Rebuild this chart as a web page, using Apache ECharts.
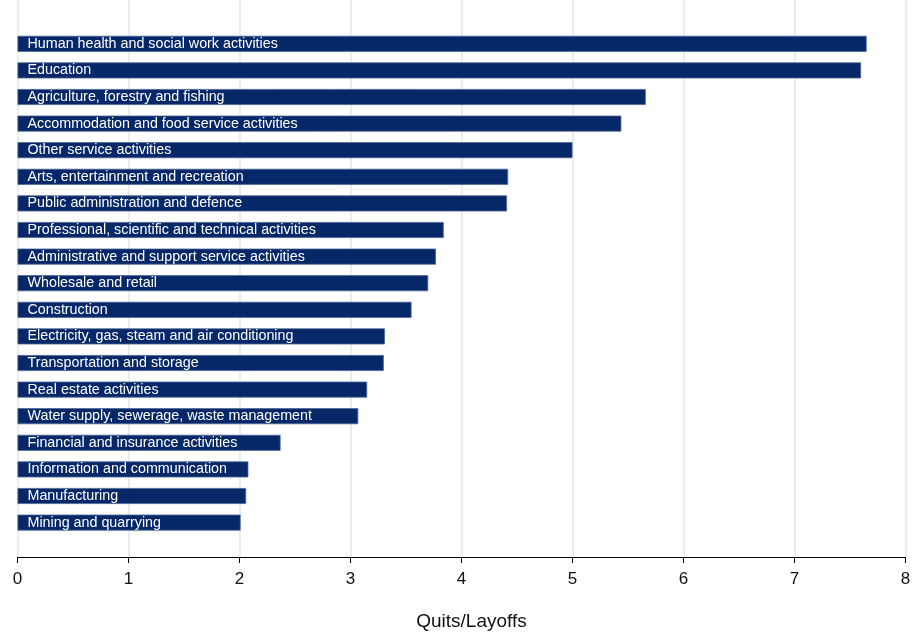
<!DOCTYPE html>
<html>
<head>
<meta charset="utf-8">
<script src="https://cdn.jsdelivr.net/npm/echarts@6/dist/echarts.min.js"></script>
<style>html,body{margin:0;padding:0;background:#fff}#c{width:918px;height:632px}</style>
</head>
<body>
<div id="c"></div>
<script>
const categories = [
  "Human health and social work activities",
  "Education",
  "Agriculture, forestry and fishing",
  "Accommodation and food service activities",
  "Other service activities",
  "Arts, entertainment and recreation",
  "Public administration and defence",
  "Professional, scientific and technical activities",
  "Administrative and support service activities",
  "Wholesale and retail",
  "Construction",
  "Electricity, gas, steam and air conditioning",
  "Transportation and storage",
  "Real estate activities",
  "Water supply, sewerage, waste management",
  "Financial and insurance activities",
  "Information and communication",
  "Manufacturing",
  "Mining and quarrying"
];
const values = [7.65, 7.60, 5.66, 5.44, 5.00, 4.42, 4.41, 3.84, 3.77, 3.70, 3.55, 3.31, 3.30, 3.15, 3.07, 2.37, 2.08, 2.06, 2.01];
const xTicks = [0, 1, 2, 3, 4, 5, 6, 7, 8];
const axisTitle = "Quits/Layoffs";

const chart = echarts.init(document.getElementById('c'), null, {renderer: 'canvas'});
const font = 'Liberation Sans, Arial, sans-serif';
chart.setOption({
  animation: false,
  backgroundColor: '#ffffff',
  grid: [
    {left: 17.5, right: 12.5, top: 30.5, height: 505.4, containLabel: false, outerBoundsMode: 'none'},
    {left: 17.5, right: 12.5, top: 0, bottom: 75, containLabel: false, outerBoundsMode: 'none'}
  ],
  xAxis: [
    {
      gridIndex: 0, type: 'value', min: xTicks[0], max: xTicks[xTicks.length - 1], interval: 1,
      show: false
    },
    {
      gridIndex: 1, type: 'value', min: xTicks[0], max: xTicks[xTicks.length - 1], interval: 1,
      name: axisTitle,
      nameLocation: 'middle',
      nameGap: 55,
      nameTextStyle: {fontFamily: font, fontSize: 19, color: '#111', padding: [0, 0, 0, 20]},
      axisLine: {show: true, lineStyle: {color: '#000', width: 1}},
      axisTick: {show: true, length: 6, lineStyle: {color: '#000'}},
      axisLabel: {fontFamily: font, fontSize: 17, color: '#111', margin: 14},
      splitLine: {show: true, lineStyle: {color: '#e6eef1', width: 2}}
    }
  ],
  yAxis: [
    {gridIndex: 0, type: 'category', data: categories, inverse: true, show: false},
    {gridIndex: 1, type: 'value', min: 0, max: 1, show: false, splitLine: {show: false}}
  ],
  series: [{
    type: 'bar',
    xAxisIndex: 0,
    yAxisIndex: 0,
    data: values,
    barWidth: 16,
    itemStyle: {color: '#062868', borderColor: '#4a6394', borderWidth: 0.8},
    label: {
      show: true,
      position: 'insideLeft',
      distance: 10,
      formatter: p => p.name,
      color: '#ffffff',
      fontFamily: font,
      fontSize: 14.3
    }
  }]
});
</script>
</body>
</html>
